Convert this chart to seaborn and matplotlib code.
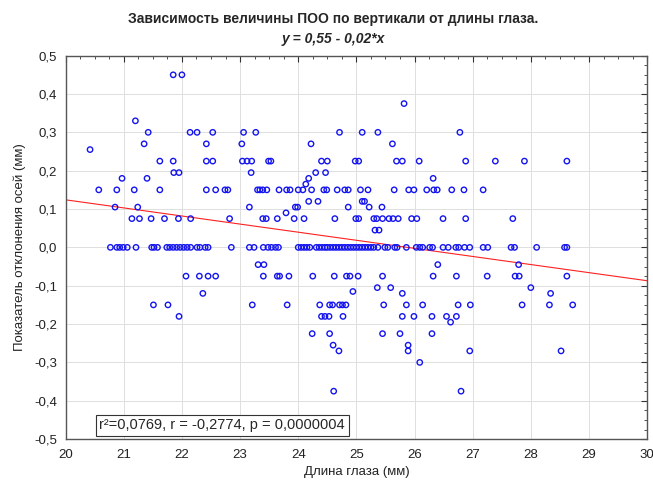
import numpy as np
import pandas as pd
import matplotlib.pyplot as plt
import seaborn as sns
from matplotlib.ticker import MultipleLocator, FuncFormatter

# Длина глаза (мм) для каждого значения ПОО по вертикали (мм)
x_p045 = [21.85, 22.0]
x_p0375 = [25.82]
x_p033 = [21.2]
x_p030 = [21.42, 22.14, 22.26, 22.53, 23.06, 23.27, 24.71, 25.1, 25.37, 26.78]
x_p027 = [21.35, 22.42, 23.03, 24.22, 25.62]
x_p0255 = [20.42]
x_p0225 = [21.62, 21.85, 22.42, 22.53, 23.04, 23.12, 23.2, 23.49, 23.53, 24.4,
           24.5, 24.98, 25.04, 25.69, 25.79, 26.08, 26.88, 27.39, 27.89, 28.62]
x_p0195 = [21.86, 21.95, 23.19, 24.3, 24.47]
x_p018 = [20.97, 21.4, 24.18, 26.32]
x_p0165 = [24.13]
x_p015 = [20.57, 20.88, 21.18, 21.62, 22.42, 22.58, 22.74, 22.79, 23.3, 23.34,
          23.39, 23.46, 23.67, 23.8, 23.86, 24.0, 24.08, 24.23, 24.44, 24.49,
          24.67, 24.8, 24.86, 25.07, 25.2, 25.65, 25.9, 25.99, 26.21, 26.33,
          26.39, 26.64, 26.85, 27.18]
x_p012 = [24.18, 24.34, 25.1, 25.14]
x_p0105 = [20.85, 21.24, 23.16, 23.95, 23.99, 24.86, 25.22, 25.44]
x_p009 = [23.79]
x_p0075 = [21.14, 21.27, 21.47, 21.7, 21.94, 22.15, 22.82, 23.39, 23.45, 23.64,
           23.93, 24.1, 24.63, 24.99, 25.04, 25.3, 25.35, 25.45, 25.56, 25.63,
           25.72, 25.95, 26.04, 26.49, 26.88, 27.69]
x_p0045 = [25.32, 25.39]
x_zero = [20.77, 20.88, 20.93, 20.99, 21.06, 21.21, 21.48, 21.52, 21.58, 21.74,
          21.79, 21.85, 21.91, 21.97, 22.03, 22.09, 22.15, 22.26, 22.31, 22.4,
          22.45, 22.85, 23.16, 23.24, 23.4, 23.48, 23.54, 23.61, 23.66, 24.0,
          24.05, 24.1, 24.15, 24.2, 24.31, 24.36, 24.41, 24.46, 24.5, 24.55,
          24.6, 24.65, 24.7, 24.75, 24.8, 24.85, 24.9, 24.95, 25.0, 25.05,
          25.1, 25.15, 25.2, 25.25, 25.3, 25.37, 25.49, 25.54, 25.66, 25.7,
          25.86, 26.03, 26.09, 26.14, 26.26, 26.31, 26.49, 26.58, 26.71, 26.76,
          26.86, 26.95, 27.18, 27.26, 27.66, 27.72, 28.1, 28.58, 28.62]
x_m0045 = [23.31, 23.41, 26.4, 27.79]
x_m0075 = [22.07, 22.3, 22.45, 22.58, 23.4, 23.64, 23.68, 23.84, 24.25, 24.62,
           24.83, 24.89, 25.03, 25.45, 26.32, 26.72, 27.25, 27.73, 27.8, 28.62]
x_m0105 = [25.36, 25.59, 28.0]
x_m0115 = [24.94]
x_m012 = [22.36, 25.79, 28.34]
x_m015 = [21.51, 21.76, 23.21, 23.81, 24.37, 24.54, 24.59, 24.71, 24.76, 24.82,
          25.47, 25.86, 26.14, 26.75, 26.96, 27.85, 28.32, 28.72]
x_m018 = [21.95, 24.4, 24.46, 24.53, 24.77, 25.79, 25.99, 26.3, 26.55, 26.72]
x_m0195 = [26.62]
x_m0225 = [24.24, 24.54, 25.45, 25.75, 26.3]
x_m0255 = [24.6, 25.89]
x_m027 = [24.7, 25.89, 26.95, 28.52]
x_m030 = [26.09]
x_m0375 = [24.61, 26.8]

# линия регрессии
intercept = 0.546
slope = -0.0211

title = 'Зависимость величины ПОО по вертикали от длины глаза.'
subtitle = 'y = 0,55 - 0,02*x'
stats_text = 'r²=0,0769, r = -0,2774, p = 0,0000004'

groups = {
    0.45: x_p045, 0.375: x_p0375, 0.33: x_p033, 0.30: x_p030, 0.27: x_p027,
    0.255: x_p0255, 0.225: x_p0225, 0.195: x_p0195, 0.18: x_p018,
    0.165: x_p0165, 0.15: x_p015, 0.12: x_p012, 0.105: x_p0105, 0.09: x_p009,
    0.075: x_p0075, 0.045: x_p0045, 0.0: x_zero, -0.045: x_m0045,
    -0.075: x_m0075, -0.105: x_m0105, -0.115: x_m0115, -0.12: x_m012,
    -0.15: x_m015, -0.18: x_m018, -0.195: x_m0195, -0.225: x_m0225,
    -0.255: x_m0255, -0.27: x_m027, -0.30: x_m030, -0.375: x_m0375,
}
df = pd.concat([pd.DataFrame({'eye': xs, 'poo': lvl}) for lvl, xs in groups.items()],
               ignore_index=True)

sns.set_style('white')
plt.rcParams['font.family'] = ['Liberation Sans', 'DejaVu Sans']

fig = plt.figure(figsize=(6.53, 4.86), dpi=100)
ax = fig.add_axes([0.1005, 0.0965, 0.8905, 0.789])

sns.scatterplot(data=df, x='eye', y='poo', ax=ax, marker='o', s=15,
                facecolor='none', edgecolor='#1414ee', linewidth=1.0, zorder=3)

line_x = np.array([20.0, 30.0])
sns.lineplot(x=line_x, y=intercept + slope * line_x, ax=ax, color='#ff2020',
             linewidth=0.8, zorder=2)

ax.set_xlim(20, 30)
ax.set_ylim(-0.5, 0.5)
ax.xaxis.set_major_locator(MultipleLocator(1))
ax.xaxis.set_minor_locator(MultipleLocator(0.25))
ax.yaxis.set_major_locator(MultipleLocator(0.1))
ax.yaxis.set_minor_locator(MultipleLocator(0.025))


def comma_fmt(v, _):
    s = f'{v:.1f}'.replace('.', ',')
    return '0,0' if s == '-0,0' else s


ax.yaxis.set_major_formatter(FuncFormatter(comma_fmt))
ax.xaxis.set_major_formatter(FuncFormatter(lambda v, _: f'{v:.0f}'))
ax.tick_params(which='both', direction='in', top=True, right=True,
               colors='#333333', labelcolor='#222222', labelsize=9.5)
ax.tick_params(which='major', length=4, width=0.8)
ax.tick_params(which='minor', length=2, width=0.6)
ax.tick_params(axis='x', which='major', pad=7)
ax.tick_params(axis='y', which='major', pad=6)
ax.grid(True, which='major', color='#dedede', linewidth=0.7)
for sp in ax.spines.values():
    sp.set_color('#555555')
    sp.set_linewidth(1.0)

ax.set_xlabel('Длина глаза (мм)', fontsize=9.5, color='#222222', labelpad=4)
ax.set_ylabel('Показатель отклонения осей (мм)', fontsize=9.5, color='#222222', labelpad=6)

fig.text(0.51, 0.961, title, ha='center', va='center', fontsize=10, fontweight='bold')
fig.text(0.51, 0.92, subtitle, ha='center', va='center', fontsize=10,
         fontweight='bold', fontstyle='italic')

ax.text(0.058, 0.018, stats_text, transform=ax.transAxes, fontsize=10.5,
        ha='left', va='bottom', zorder=5,
        bbox=dict(boxstyle='square,pad=0.25', facecolor='white',
                  edgecolor='#333333', linewidth=0.8))

fig.savefig('out.png', dpi=100)
